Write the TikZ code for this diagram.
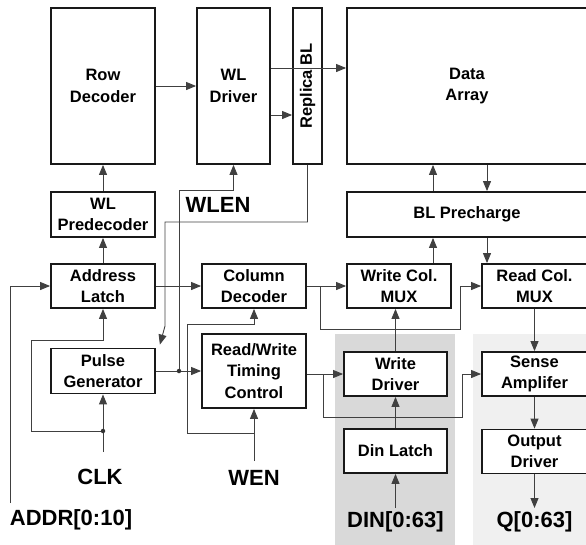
\documentclass[tikz,border=0pt]{standalone}
\usepackage{fontspec}
\setmainfont{Liberation Sans}
\usetikzlibrary{arrows.meta, calc}

\begin{document}
\begin{tikzpicture}[x=1pt, y=-1pt,
    blk/.style={draw=black!90, line width=1.8pt, fill=white, align=center, inner sep=0pt, font=\fontsize{16.5}{21.5}\selectfont\bfseries},
    lbl/.style={font=\fontsize{22}{26}\selectfont\bfseries, inner sep=0pt},
    arr/.style={-{Triangle[length=10pt, width=8pt]}, black!75, line width=0.9pt},
    dot/.style={circle, fill=black!80, inner sep=0pt, minimum size=4.5pt}]
    \useasboundingbox (0,0) rectangle (586,544);
    \fill[black!15] (335,334) rectangle (455,548);
    \fill[black!6] (473,334) rectangle (590,548);

    \node[blk, minimum width=104pt, minimum height=156pt] (rowdec) at (103,86) {Row\\Decoder};
    \node[blk, minimum width=73pt, minimum height=156pt] (wldrv) at (233.5,86) {WL\\Driver};
    \node[blk, minimum width=29pt, minimum height=156pt] (replica) at (307.5,86) {};
    \node[rotate=90, inner sep=0pt, font=\fontsize{16.5}{21.5}\selectfont\bfseries] (replicatxt) at (replica) {Replica BL};
    \node[blk, minimum width=240pt, minimum height=156pt] (array) at (467,86) {Data\\Array};
    \node[blk, minimum width=104pt, minimum height=45pt] (predec) at (103,214.5) {WL\\Predecoder};
    \node[blk, minimum width=240pt, minimum height=45pt] (blpre) at (467,214.5) {BL Precharge};
    \node[blk, minimum width=104pt, minimum height=44pt] (addr) at (103,286) {Address\\Latch};
    \node[blk, minimum width=104pt, minimum height=44pt] (coldec) at (254,286) {Column\\Decoder};
    \node[blk, minimum width=104pt, minimum height=44pt] (wmux) at (399,286) {Write Col.\\MUX};
    \node[blk, minimum width=105pt, minimum height=44pt] (rmux) at (534.5,286) {Read Col.\\MUX};
    \node[blk, minimum width=104pt, minimum height=45pt] (pulse) at (103,371) {Pulse\\Generator};
    \node[blk, minimum width=104pt, minimum height=74pt] (rwctl) at (254,371) {Read/Write\\Timing\\Control};
    \node[blk, minimum width=103pt, minimum height=44pt] (wdrv) at (395.5,374) {Write\\Driver};
    \node[blk, minimum width=105pt, minimum height=44pt] (sense) at (534.5,374) {Sense\\Amplifer};
    \node[blk, minimum width=103pt, minimum height=44pt] (dinl) at (395.5,451) {Din Latch};
    \node[blk, minimum width=105pt, minimum height=44pt] (outdrv) at (534.5,451.5) {Output\\Driver};

    \node[lbl] (wlen) at (218,205) {WLEN};
    \node[lbl] (clk) at (100,477) {CLK};
    \node[lbl] (wen) at (254,478) {WEN};
    \node[lbl] (addrtxt) at (71,520) {ADDR[0:10]};
    \node[lbl] (dintxt) at (395.5,522) {DIN[0:63]};
    \node[lbl] (qtxt) at (534.5,522) {Q[0:63]};

    \coordinate (addrin) at (10,503);
    \coordinate (clkin) at (103,452);
    \coordinate (clkdot) at (103,431);
    \coordinate (clkloop) at (31,340);
    \coordinate (wlendot) at (179,371);
    \coordinate (wlenbend) at (179,190);
    \coordinate (rblbend) at (165,222);
    \coordinate (rblend) at (165,326);
    \coordinate (wenin) at (254,461);
    \coordinate (wensplit) at (254,433);
    \coordinate (wenbend) at (187,324);
    \coordinate (cdsplit) at (320,286);
    \coordinate (cdbend) at (460,329);
    \coordinate (rwsplit) at (323,374);
    \coordinate (rwbend) at (462,417);
    \coordinate (dinin) at (395.5,508);
    \coordinate (qout) at (534.5,508);

    \draw[arr] (rowdec.east) -- (wldrv.west);
    \draw[arr] ([yshift=18pt]wldrv.east) -- ([yshift=18pt]array.west);
    \draw[arr] ([yshift=-29pt]wldrv.east) -- ([yshift=-29pt]replica.west);
    \draw[arr] ([xshift=20pt]array.south) -- ([xshift=20pt]blpre.north);
    \draw[arr] ([xshift=-34pt]blpre.north) -- ([xshift=-34pt]array.south);
    \draw[arr] ([xshift=34pt]wmux.north) -- ([xshift=-34pt]blpre.south);
    \draw[arr] ([xshift=20pt]blpre.south) -- ([xshift=-47.5pt]rmux.north);
    \draw[arr] (predec.north) -- (rowdec.south);
    \draw[arr] (addr.north) -- (predec.south);
    \draw[arr] (addrin) |- (addr.west);
    \draw[arr] (addr.east) -- (coldec.west);
    \draw[arr] (clkin) -- (pulse.south);
    \draw[arr] (clkdot) -| (clkloop) -| (addr.south);
    \draw[arr] (pulse.east) -- (rwctl.west);
    \draw[arr] (wlendot) -- (wlenbend) -| (wldrv.south);
    \draw[arr] (replica.south) |- (rblbend) -- (rblend) -- ([shift={(4pt,3pt)}]pulse.north east);
    \draw[arr] (wensplit) -| (wenbend) -| (coldec.south);
    \draw[arr] (wenin) -- (rwctl.south);
    \draw[arr] (coldec.east) -- (wmux.west);
    \draw[arr] (cdsplit) |- (cdbend) |- (rmux.west);
    \draw[arr] (rwctl.east |- wdrv.west) -- (wdrv.west);
    \draw[arr] (rwsplit) |- (rwbend) |- (sense.west);
    \draw[arr] (wdrv.north) -- (wdrv.north |- wmux.south);
    \draw[arr] (dinl.north) -- (wdrv.south);
    \draw[arr] (dinin) -- (dinl.south);
    \draw[arr] (rmux.south) -- (sense.north);
    \draw[arr] (sense.south) -- (outdrv.north);
    \draw[arr] (outdrv.south) -- (qout);
    \node[dot] (wlenjoin) at (wlendot) {};
    \node[dot] (clkjoin) at (clkdot) {};
\end{tikzpicture}
\end{document}
